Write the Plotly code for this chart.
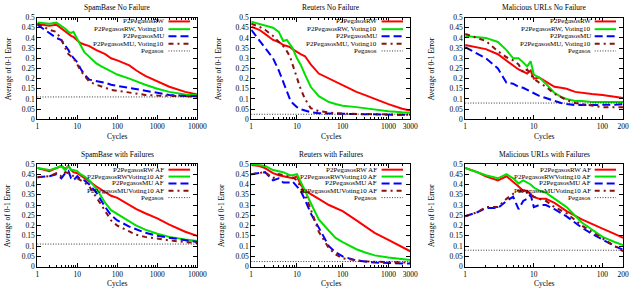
import math
import plotly.graph_objects as go

# ---------------- data ----------------
titles = ["SpamBase No Failure", "Reuters No Failure", "Malicious URLs No Failure",
          "SpamBase with Failures", "Reuters with Failures", "Malicious URLs with Failures"]

names_nf = ["P2PegasosRW", "P2PegasosRW, Voting10", "P2PegasosMU", "P2PegasosMU, Voting10", "Pegasos"]
names_af = ["P2PegasosRW AF", "P2PegasosRWVoting10 AF", "P2PegasosMU AF", "P2PegasosMUVoting10 AF", "Pegasos"]

pegasos = [0.11, 0.025, 0.08, 0.11, 0.025, 0.08]
x_max = [10000, 3000, 200, 10000, 3000, 200]
x_tickvals = [[1, 10, 100, 1000, 10000], [1, 10, 100, 1000, 3000], [1, 10, 100, 200],
              [1, 10, 100, 1000, 10000], [1, 10, 100, 1000, 3000], [1, 10, 100, 200]]
y_tickvals = [0, 0.05, 0.1, 0.15, 0.2, 0.25, 0.3, 0.35, 0.4, 0.45, 0.5]
y_ticktext = ["0", "0.05", "0.1", "0.15", "0.2", "0.25", "0.3", "0.35", "0.4", "0.45", "0.5"]

# Panel 1: SpamBase No Failure
x1 = [1, 2, 3, 4, 5, 6, 7, 8, 10, 12, 15, 20, 30, 40, 50, 70, 100, 200, 300, 500, 1000, 2000, 5000, 10000]
rw1 = [0.468, 0.46, 0.465, 0.445, 0.43, 0.42, 0.41, 0.405, 0.387, 0.375, 0.368, 0.36, 0.34, 0.33, 0.32, 0.30,
       0.29, 0.265, 0.24, 0.214, 0.186, 0.16, 0.135, 0.122]
rwv1 = [0.476, 0.47, 0.475, 0.46, 0.445, 0.43, 0.425, 0.43, 0.39, 0.365, 0.33, 0.305, 0.275, 0.26, 0.25, 0.235,
        0.22, 0.2, 0.185, 0.17, 0.15, 0.135, 0.122, 0.118]
mu1 = [0.465, 0.425, 0.40, 0.39, 0.365, 0.34, 0.315, 0.30, 0.28, 0.25, 0.22, 0.195, 0.19, 0.185, 0.18, 0.17,
       0.165, 0.155, 0.15, 0.14, 0.13, 0.12, 0.115, 0.113]
muv1 = [0.47, 0.44, 0.43, 0.39, 0.35, 0.32, 0.31, 0.30, 0.27, 0.24, 0.215, 0.185, 0.17, 0.16, 0.155, 0.145,
        0.14, 0.13, 0.125, 0.12, 0.117, 0.115, 0.113, 0.112]

# Panel 2: Reuters No Failure
x2 = [1, 1.5, 2, 3, 4, 5, 6, 7, 8, 10, 12, 15, 20, 30, 50, 70, 100, 200, 300, 500, 1000, 2000, 3000]
rw2 = [0.455, 0.44, 0.42, 0.39, 0.38, 0.365, 0.36, 0.355, 0.345, 0.33, 0.32, 0.31, 0.27, 0.225, 0.2, 0.185,
       0.17, 0.135, 0.12, 0.1, 0.075, 0.052, 0.043]
rwv2 = [0.48, 0.47, 0.46, 0.45, 0.43, 0.385, 0.39, 0.37, 0.35, 0.30, 0.27, 0.22, 0.16, 0.114, 0.085, 0.075,
        0.067, 0.06, 0.055, 0.048, 0.04, 0.035, 0.033]
mu2 = [0.44, 0.39, 0.35, 0.30, 0.24, 0.186, 0.14, 0.10, 0.08, 0.06, 0.05, 0.043, 0.035, 0.03, 0.028, 0.027,
       0.027, 0.026, 0.025, 0.024, 0.023, 0.022, 0.022]
muv2 = [0.47, 0.455, 0.44, 0.41, 0.38, 0.36, 0.335, 0.31, 0.27, 0.20, 0.15, 0.10, 0.055, 0.04, 0.033, 0.03,
        0.028, 0.026, 0.025, 0.024, 0.023, 0.022, 0.022]

# Panel 3: Malicious URLs No Failure
x3 = [1, 2, 3, 4, 5, 6, 7, 8, 9, 10, 12, 15, 20, 25, 30, 40, 50, 70, 100, 150, 200]
rw3 = [0.365, 0.345, 0.32, 0.29, 0.265, 0.245, 0.235, 0.225, 0.24, 0.20, 0.205, 0.185, 0.16, 0.155, 0.15,
       0.135, 0.13, 0.125, 0.12, 0.11, 0.105]
rwv3 = [0.41, 0.40, 0.38, 0.34, 0.30, 0.30, 0.28, 0.26, 0.285, 0.22, 0.205, 0.175, 0.13, 0.11, 0.10, 0.09,
        0.09, 0.085, 0.085, 0.085, 0.085]
mu3 = [0.355, 0.30, 0.25, 0.18, 0.175, 0.16, 0.155, 0.145, 0.14, 0.13, 0.115, 0.105, 0.09, 0.08, 0.075, 0.07,
       0.07, 0.07, 0.07, 0.072, 0.075]
muv3 = [0.42, 0.385, 0.335, 0.305, 0.29, 0.27, 0.23, 0.245, 0.22, 0.20, 0.18, 0.16, 0.125, 0.11, 0.095, 0.08,
        0.075, 0.065, 0.06, 0.06, 0.06]

# Panel 4: SpamBase with Failures
x4 = [1, 2, 3, 4, 5, 6, 7, 8, 10, 12, 15, 20, 30, 40, 50, 70, 100, 200, 300, 500, 1000, 2000, 5000, 10000]
rw4 = [0.48, 0.465, 0.48, 0.49, 0.475, 0.49, 0.47, 0.46, 0.455, 0.445, 0.43, 0.415, 0.39, 0.375, 0.36, 0.345,
       0.335, 0.30, 0.28, 0.26, 0.235, 0.205, 0.17, 0.15]
rwv4 = [0.48, 0.47, 0.48, 0.49, 0.47, 0.49, 0.47, 0.47, 0.465, 0.45, 0.44, 0.42, 0.38, 0.34, 0.31, 0.275,
        0.255, 0.22, 0.20, 0.18, 0.16, 0.145, 0.132, 0.125]
mu4 = [0.435, 0.44, 0.45, 0.43, 0.455, 0.465, 0.43, 0.42, 0.44, 0.425, 0.42, 0.40, 0.36, 0.32, 0.29, 0.25,
       0.225, 0.195, 0.18, 0.165, 0.15, 0.14, 0.128, 0.12]
muv4 = [0.435, 0.44, 0.455, 0.44, 0.46, 0.455, 0.45, 0.44, 0.43, 0.42, 0.41, 0.39, 0.34, 0.30, 0.27, 0.225,
        0.20, 0.17, 0.155, 0.145, 0.135, 0.128, 0.12, 0.115]

# Panel 5: Reuters with Failures
x5 = [1, 1.5, 2, 3, 4, 5, 7, 8, 10, 12, 15, 20, 30, 50, 70, 100, 200, 300, 500, 1000, 2000, 3000]
rw5 = [0.495, 0.49, 0.48, 0.455, 0.445, 0.44, 0.43, 0.43, 0.44, 0.40, 0.37, 0.355, 0.33, 0.30, 0.285, 0.27,
       0.225, 0.20, 0.165, 0.13, 0.095, 0.075]
rwv5 = [0.50, 0.495, 0.49, 0.47, 0.465, 0.46, 0.445, 0.445, 0.45, 0.41, 0.37, 0.31, 0.23, 0.175, 0.14, 0.12,
        0.085, 0.07, 0.055, 0.045, 0.036, 0.032]
mu5 = [0.45, 0.455, 0.46, 0.42, 0.43, 0.41, 0.41, 0.415, 0.39, 0.37, 0.325, 0.26, 0.19, 0.10, 0.07, 0.05,
       0.03, 0.025, 0.02, 0.018, 0.016, 0.015]
muv5 = [0.45, 0.455, 0.46, 0.43, 0.45, 0.445, 0.44, 0.435, 0.42, 0.39, 0.35, 0.28, 0.17, 0.09, 0.06, 0.04,
        0.03, 0.027, 0.024, 0.022, 0.02, 0.02]

# Panel 6: Malicious URLs with Failures
x6 = [1, 1.5, 2, 3, 4, 5, 6, 7, 8, 9, 10, 12, 15, 20, 30, 50, 70, 100, 150, 200]
rw6 = [0.48, 0.46, 0.44, 0.42, 0.44, 0.41, 0.39, 0.37, 0.37, 0.35, 0.34, 0.33, 0.33, 0.31, 0.27, 0.23,
       0.21, 0.185, 0.16, 0.14]
rwv6 = [0.48, 0.46, 0.445, 0.43, 0.45, 0.43, 0.405, 0.42, 0.41, 0.40, 0.385, 0.37, 0.36, 0.33, 0.29, 0.215,
        0.18, 0.145, 0.12, 0.105]
mu6 = [0.245, 0.265, 0.285, 0.285, 0.32, 0.34, 0.28, 0.32, 0.33, 0.35, 0.29, 0.30, 0.30, 0.28, 0.245, 0.19,
       0.16, 0.13, 0.10, 0.083]
muv6 = [0.245, 0.265, 0.29, 0.29, 0.33, 0.355, 0.37, 0.365, 0.36, 0.35, 0.34, 0.33, 0.32, 0.29, 0.26, 0.20,
        0.17, 0.14, 0.10, 0.075]

panel_x = [x1, x2, x3, x4, x5, x6]
panel_series = [[rw1, rwv1, mu1, muv1], [rw2, rwv2, mu2, muv2], [rw3, rwv3, mu3, muv3],
                [rw4, rwv4, mu4, muv4], [rw5, rwv5, mu5, muv5], [rw6, rwv6, mu6, muv6]]

# ---------------- styling ----------------
W, H = 640, 293
FONT = "Liberation Serif"
FS = 7.5
LFS = 7.0
colors = ["#ff0000", "#00e000", "#0000ff", "#8b1010"]
dashes = ["solid", "solid", "8px,4px", "5px,4px,2px,4px"]
col_px = [(36, 199), (254, 416), (472, 633)]
row_px = [(14, 119), (165, 271)]
title_y_px = [4, 155]
cycles_y_px = [137, 288]
ylabel_x_px = [[7, 221, 438], [5, 224, 438]]
legend_rows = [[0.962, 0.886, 0.816, 0.743, 0.672], [0.944, 0.877, 0.810, 0.738, 0.672]]

fig = go.Figure()
annotations = []
shapes = []

for i in range(6):
    r, c = divmod(i, 3)
    ax = "" if i == 0 else str(i + 1)
    xr, yr = "x" + ax, "y" + ax
    xs = panel_x[i]
    names = names_nf if r == 0 else names_af
    for k, ys in enumerate(panel_series[i]):
        fig.add_trace(go.Scatter(x=xs, y=ys, mode="lines", name=names[k], showlegend=False,
                                 line=dict(color=colors[k], width=2, dash=dashes[k]),
                                 xaxis=xr, yaxis=yr))
    fig.add_trace(go.Scatter(x=[1, x_max[i]], y=[pegasos[i], pegasos[i]], mode="lines", name="Pegasos",
                             showlegend=False, line=dict(color="black", width=0.8, dash="1px,1.6px"),
                             xaxis=xr, yaxis=yr))

    x0, x1p = col_px[c]
    y0, y1p = row_px[r]
    minor_vals = []
    d = 1
    while d < x_max[i]:
        for m in range(2, 10):
            v = m * d
            if v < x_max[i]:
                minor_vals.append(v)
        d *= 10
    fig.update_layout(**{
        "xaxis" + ax: dict(type="log", range=[0, math.log10(x_max[i])], domain=[x0 / W, x1p / W],
                           anchor=yr, showline=True, linecolor="black", linewidth=1, mirror="allticks",
                           ticks="inside", ticklen=4, tickcolor="black", tickvals=x_tickvals[i],
                           ticktext=[str(v) for v in x_tickvals[i]], showgrid=False, zeroline=False,
                           ticklabeloverflow="allow",
                           tickfont=dict(family=FONT, size=FS, color="black"),
                           minor=dict(ticks="inside", ticklen=2, tickcolor="black", tickvals=minor_vals,
                                      showgrid=False)),
        "yaxis" + ax: dict(range=[0, 0.5], domain=[1 - y1p / H, 1 - y0 / H], anchor=xr, showline=True,
                           linecolor="black", linewidth=1, mirror="allticks", ticks="inside", ticklen=4,
                           tickcolor="black", tickvals=y_tickvals, ticktext=y_ticktext, showgrid=False,
                           zeroline=False, tickfont=dict(family=FONT, size=FS, color="black")),
    })
    cx = (x0 + x1p) / 2 / W
    annotations.append(dict(text=titles[i], x=cx, y=1 - title_y_px[r] / H, xref="paper", yref="paper",
                            showarrow=False, xanchor="center", yanchor="middle",
                            font=dict(family=FONT, size=FS, color="black")))
    annotations.append(dict(text="Cycles", x=cx, y=1 - cycles_y_px[r] / H, xref="paper", yref="paper",
                            showarrow=False, xanchor="center", yanchor="middle",
                            font=dict(family=FONT, size=FS, color="black")))
    annotations.append(dict(text="Average of 0-1 Error", x=ylabel_x_px[r][c] / W,
                            y=1 - (y0 + y1p) / 2 / H, xref="paper", yref="paper", textangle=-90,
                            showarrow=False, xanchor="center", yanchor="middle",
                            font=dict(family=FONT, size=FS, color="black")))
    # legend
    for k in range(5):
        ly = legend_rows[r][k]
        annotations.append(dict(text=names[k], x=0.80, y=ly, xref=xr + " domain", yref=yr + " domain",
                                showarrow=False, xanchor="right", yanchor="middle", borderpad=0,
                                font=dict(family=FONT, size=LFS, color="black")))
        if k < 4:
            ln = dict(color=colors[k], width=2, dash=dashes[k])
        else:
            ln = dict(color="black", width=0.8, dash="1px,1.6px")
        shapes.append(dict(type="line", x0=0.82, x1=0.955, y0=ly, y1=ly, xref=xr + " domain",
                           yref=yr + " domain", line=ln))

fig.update_layout(width=W, height=H, margin=dict(l=0, r=0, t=0, b=0), paper_bgcolor="white",
                  plot_bgcolor="white", annotations=annotations, shapes=shapes, showlegend=False,
                  font=dict(family=FONT, size=FS, color="black"))

fig.write_html("out.html", config={"displayModeBar": False},
               post_script="document.body.style.margin='0';document.body.style.overflow='hidden';")
